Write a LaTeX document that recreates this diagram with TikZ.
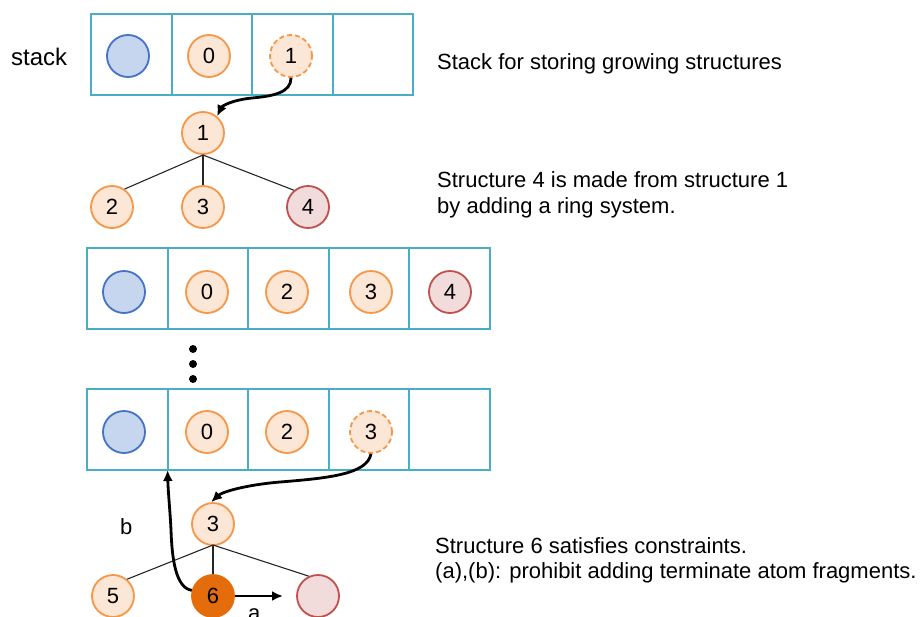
\documentclass[tikz,border=0pt]{standalone}
\usepackage{fontspec}
\setmainfont{Liberation Sans}
\usetikzlibrary{arrows.meta}
\definecolor{teal1}{HTML}{4BACC6}
\definecolor{blueD}{HTML}{4472C4}
\definecolor{blueF}{HTML}{C6D6EF}
\definecolor{orD}{HTML}{F79646}
\definecolor{orF}{HTML}{FCE7D6}
\definecolor{redD}{HTML}{C0504D}
\definecolor{redF}{HTML}{F2DCDB}
\definecolor{orFill}{HTML}{E46C0A}
\tikzset{
  cell/.style={draw=teal1, line width=2pt, minimum width=80.6pt, minimum height=81pt, inner sep=0pt},
  atom/.style={circle, line width=1.8pt, minimum size=42pt, inner sep=0pt, font=\fontsize{22}{26}\selectfont},
  blueatom/.style={atom, draw=blueD, fill=blueF},
  oratom/.style={atom, draw=orD, fill=orF},
  dashatom/.style={atom, draw=orD, fill=orF, dash pattern=on 5pt off 3pt},
  redatom/.style={atom, draw=redD, fill=redF},
  fullatom/.style={atom, draw=orFill, fill=orFill},
  bond/.style={line width=1.1pt, draw=black!85},
  flow/.style={line width=2.8pt, -{Latex[length=11pt,width=10pt]}},
  txt/.style={anchor=base west, inner sep=0pt, font=\fontsize{22}{26}\selectfont},
  dot/.style={circle, fill=black, minimum size=8pt, inner sep=0pt}
}
\begin{document}
\begin{tikzpicture}[x=1pt,y=-1pt]
\useasboundingbox (0,0) rectangle (921,616);
% ---- top stack
\node[cell] (t1) at (131.3,54.5) {};
\node[cell] (t2) at (211.9,54.5) {};
\node[cell] (t3) at (292.5,54.5) {};
\node[cell] (t4) at (373.1,54.5) {};
\node[blueatom] (tb) at (128,56) {};
\node[oratom] (t0) at (209,56) {0};
\node[dashatom] (tc1) at (291,56) {1};
\node[txt, font=\fontsize{24}{28}\selectfont] (stacklbl) at (11,65) {stack};
\node[txt] (txt1) at (437,69) {Stack for storing growing structures};
% ---- tree 1
\node[oratom] (n1) at (203,133) {1};
\node[oratom] (n2) at (112,207) {2};
\node[oratom] (n3) at (203,207) {3};
\node[redatom] (n4) at (308,207) {4};
\coordinate (j1) at (203,155);
\draw[bond] (j1) -- (n2.55);
\draw[bond] (j1) -- (n3.north);
\draw[bond] (j1) -- (n4.130);
\draw[flow] (tc1.south) .. controls (291,92) and (275,96) .. (252,98) .. controls (232,100) and (222,106) .. (n1.50);
\node[txt] (txt2) at (437,187) {Structure 4 is made from structure 1};
\node[txt] (txt3) at (437,213) {by adding a ring system.};
% ---- middle stack
\node[cell] (m1) at (127.3,288.5) {};
\node[cell] (m2) at (207.9,288.5) {};
\node[cell] (m3) at (288.5,288.5) {};
\node[cell] (m4) at (369.1,288.5) {};
\node[cell] (m5) at (449.7,288.5) {};
\node[blueatom] (mb) at (124,292) {};
\node[oratom] (m0) at (207,292) {0};
\node[oratom] (mc2) at (287,292) {2};
\node[oratom] (mc3) at (371,292) {3};
\node[redatom] (mc4) at (450,292) {4};
% ---- dots
\node[dot] (d1) at (193,349) {};
\node[dot] (d2) at (193,364) {};
\node[dot] (d3) at (193,379) {};
% ---- bottom stack
\node[cell] (b1) at (127.3,429) {};
\node[cell] (b2) at (207.9,429) {};
\node[cell] (b3) at (288.5,429) {};
\node[cell] (b4) at (369.1,429) {};
\node[cell] (b5) at (449.7,429) {};
\node[blueatom] (bb) at (124,432) {};
\node[oratom] (b0) at (207,432) {0};
\node[oratom] (bc2) at (287,432) {2};
\node[dashatom] (bc3) at (371,432) {3};
% ---- tree 2
\node[oratom] (s3) at (213,524) {3};
\node[oratom] (s5) at (113,596) {5};
\node[fullatom] (s6) at (213,596) {6};
\node[redatom] (s7) at (318,596) {};
\coordinate (j2) at (213,545);
\draw[bond] (j2) -- (s5.50);
\draw[bond] (j2) -- (s6.north);
\draw[bond] (j2) -- (s7.115);
\draw[flow] (bc3.south) .. controls (367,474) and (330,478) .. (280,482) .. controls (245,485) and (222,492) .. (s3.95);
\coordinate (bjoin) at (167.6,470);
\draw[flow] (s6.165) .. controls (176,588) and (172,560) .. (171,530) .. controls (170,510) and (168,490) .. (bjoin);
\coordinate (aend) at (283,596);
\draw[flow] (s6.east) -- (aend);
\node[txt] (lb) at (120,534) {b};
\node[txt] (la) at (248,620) {a};
\node[txt] (txt4) at (435,553) {Structure 6 satisfies constraints.};
\node[txt] (txt5) at (435,578) {(a),(b): prohibit adding terminate atom fragments.};
\end{tikzpicture}
\end{document}
